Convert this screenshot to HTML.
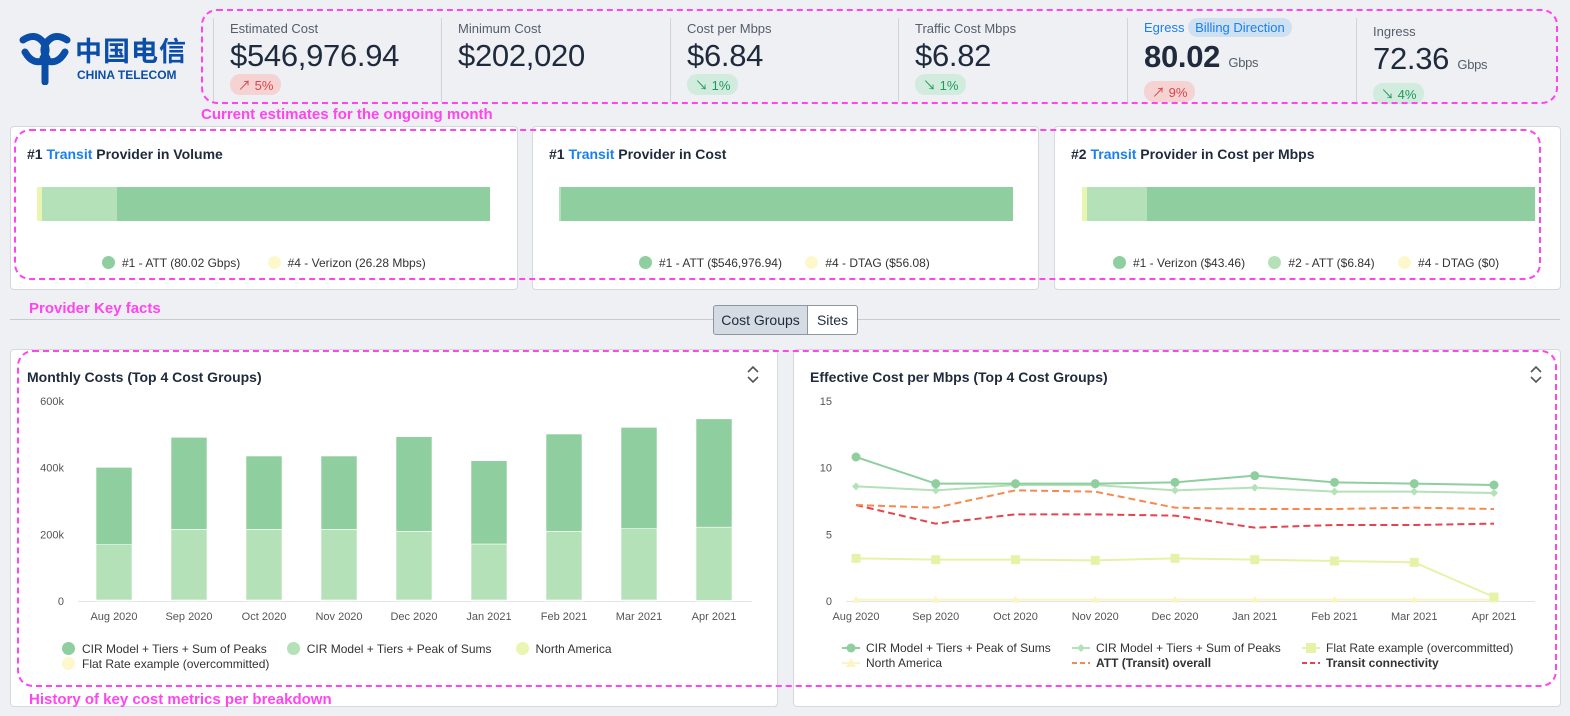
<!DOCTYPE html>
<html><head><meta charset="utf-8">
<style>
*{box-sizing:border-box;margin:0;padding:0}
body{width:1570px;height:716px;background:#eef0f4;font-family:"Liberation Sans","Noto Sans CJK SC",sans-serif;color:#1f2a3c;position:relative;overflow:hidden}
.abs{position:absolute}
.kpi{position:absolute;top:18px;height:84px;border-left:1px solid #cfd3da;padding-left:16px}
.kl{font-size:13px;color:#555d6b;margin-top:3px}
.kv{font-size:31px;color:#1f2a3c;margin-top:2px;line-height:36px;letter-spacing:-0.3px}
.badge{display:inline-block;font-size:13px;border-radius:10px;padding:1px 8px;margin-top:0}
.up{background:#f5d3d3;color:#e0414a}.dn{background:#d2ebdf;color:#1f9a5a}
.card{position:absolute;background:#fff;border:1px solid #d5d8de;border-radius:4px}
.ct{position:absolute;font-size:14px;font-weight:bold;color:#1f2a3c}
.blue{color:#1a7ff0}
.dash{position:absolute;border:2px dashed #ff44f0;border-radius:16px}
.note{position:absolute;color:#ff44f0;font-weight:bold;font-size:15px}
.leg{position:absolute;font-size:12px;color:#333;white-space:nowrap}
.dot{display:inline-block;width:13px;height:13px;border-radius:50%;vertical-align:-2px;margin-right:7px}
</style></head><body>

<div class="abs" style="left:15px;top:30px;width:175px;height:55px">
 <svg width="60" height="55" class="abs" style="left:0;top:0"><path d="M8 10 Q20 2 28 12 Q34 20 28 28 M52 10 Q40 2 32 12 Q26 20 32 28 M10 22 Q18 36 30 30 Q42 36 50 22 M30 12 L30 52" stroke="#0a4ea8" stroke-width="7" fill="none" stroke-linecap="round"/></svg>
 <div class="abs" style="left:60px;top:0;font-size:27px;font-weight:bold;color:#0a4ea8;font-family:'Noto Sans CJK SC',sans-serif;letter-spacing:1px">中国电信</div>
 <div class="abs" style="left:62px;top:38px;font-size:12px;font-weight:bold;color:#0a4ea8">CHINA TELECOM</div>
</div>

<div class="kpi" style="left:213px"><div class="kl">Estimated Cost</div><div class="kv">$546,976.94</div><span class="badge up">↗ 5%</span></div>
<div class="kpi" style="left:441px"><div class="kl">Minimum Cost</div><div class="kv">$202,020</div></div>
<div class="kpi" style="left:670px"><div class="kl">Cost per Mbps</div><div class="kv">$6.84</div><span class="badge dn">↘ 1%</span></div>
<div class="kpi" style="left:898px"><div class="kl">Traffic Cost Mbps</div><div class="kv">$6.82</div><span class="badge dn">↘ 1%</span></div>
<div class="kpi" style="left:1127px"><div class="kl" style="margin-top:2px"><span class="blue">Egress</span> <span style="background:#cfe0f0;color:#1a7ff0;border-radius:10px;padding:2px 7px">Billing Direction</span></div><div class="kv" style="font-weight:bold;margin-top:4px">80.02 <span style="font-size:13px;font-weight:normal;color:#555d6b">Gbps</span></div><span class="badge up">↗ 9%</span></div>
<div class="kpi" style="left:1356px"><div class="kl" style="margin-top:6px">Ingress</div><div class="kv" style="margin-top:2px">72.36 <span style="font-size:13px;color:#555d6b">Gbps</span></div><span class="badge dn">↘ 4%</span></div>

<div class="dash" style="left:201px;top:9px;width:1357px;height:95px"></div>
<div class="note" style="left:201px;top:106px">Current estimates for the ongoing month</div>

<div class="card" style="left:10px;top:126px;width:508px;height:164px">
 <div class="ct" style="left:16px;top:19px">#1 <span class="blue">Transit</span> Provider in Volume</div>
 <div class="abs" style="left:26px;top:60px;width:5px;height:34px;background:#e9f5b0"></div>
 <div class="abs" style="left:31px;top:60px;width:75px;height:34px;background:#b5e1b9"></div>
 <div class="abs" style="left:106px;top:60px;width:373px;height:34px;background:#8fce9f"></div>
 <div class="leg" style="left:91px;top:129px"><span class="dot" style="background:#8fce9f"></span>#1 - ATT (80.02 Gbps) <span class="dot" style="background:#fdf8cc;margin-left:24px"></span>#4 - Verizon (26.28 Mbps)</div>
</div>
<div class="card" style="left:532px;top:126px;width:507px;height:164px">
 <div class="ct" style="left:16px;top:19px">#1 <span class="blue">Transit</span> Provider in Cost</div>
 <div class="abs" style="left:26px;top:60px;width:2px;height:34px;background:#b5e1b9"></div>
 <div class="abs" style="left:28px;top:60px;width:452px;height:34px;background:#8fce9f"></div>
 <div class="leg" style="left:106px;top:129px"><span class="dot" style="background:#8fce9f"></span>#1 - ATT ($546,976.94) <span class="dot" style="background:#fdf8cc;margin-left:20px"></span>#4 - DTAG ($56.08)</div>
</div>
<div class="card" style="left:1054px;top:126px;width:507px;height:164px">
 <div class="ct" style="left:16px;top:19px">#2 <span class="blue">Transit</span> Provider in Cost per Mbps</div>
 <div class="abs" style="left:27px;top:60px;width:5px;height:34px;background:#e9f5b0"></div>
 <div class="abs" style="left:32px;top:60px;width:60px;height:34px;background:#b5e1b9"></div>
 <div class="abs" style="left:92px;top:60px;width:388px;height:34px;background:#8fce9f"></div>
 <div class="leg" style="left:58px;top:129px"><span class="dot" style="background:#8fce9f"></span>#1 - Verizon ($43.46) <span class="dot" style="background:#b5e1b9;margin-left:20px"></span>#2 - ATT ($6.84) <span class="dot" style="background:#fdf8cc;margin-left:20px"></span>#4 - DTAG ($0)</div>
</div>
<div class="dash" style="left:14px;top:129px;width:1527px;height:151px"></div>
<div class="note" style="left:29px;top:300px">Provider Key facts</div>

<div class="abs" style="left:10px;top:319px;width:1550px;height:1px;background:#c8cbd1"></div>
<div class="abs" style="left:713px;top:305px;width:95px;height:30px;background:#d5dbe3;border:1px solid #8d96a3;border-radius:3px 0 0 3px;font-size:14px;text-align:center;line-height:28px">Cost Groups</div>
<div class="abs" style="left:807px;top:305px;width:51px;height:30px;background:#fff;border:1px solid #8d96a3;border-radius:0 3px 3px 0;font-size:14px;text-align:center;line-height:28px">Sites</div>

<div class="card" style="left:10px;top:349px;width:768px;height:358px">
 <div class="ct" style="left:16px;top:19px">Monthly Costs (Top 4 Cost Groups)</div>
</div>
<div class="card" style="left:793px;top:349px;width:768px;height:358px">
 <div class="ct" style="left:16px;top:19px">Effective Cost per Mbps (Top 4 Cost Groups)</div>
</div>

<svg class="abs" style="left:0;top:0" width="1570" height="716" font-family="Liberation Sans, sans-serif">
 <g id="left"></g>
 <g id="right"></g>
 <g stroke="#555" stroke-width="1.6" fill="none">
  <path d="M748 372 l5 -5 l5 5 M748 377 l5 5 l5 -5"/><path d="M1531 372 l5 -5 l5 5 M1531 377 l5 5 l5 -5"/>
 </g>
</svg>

<div class="leg" style="left:62px;top:642px"><span class="dot" style="background:#8fce9f"></span>CIR Model + Tiers + Sum of Peaks<span class="dot" style="background:#b5e1b9;margin-left:20px"></span>CIR Model + Tiers + Peak of Sums<span class="dot" style="background:#e9f5b0;margin-left:24px"></span>North America</div>
<div class="leg" style="left:62px;top:657px"><span class="dot" style="background:#fdf8cc"></span>Flat Rate example (overcommitted)</div>

<div class="dash" style="left:17px;top:350px;width:1540px;height:337px"></div>
<div class="note" style="left:29px;top:691px">History of key cost metrics per breakdown</div>

<script>
const months=["Aug 2020","Sep 2020","Oct 2020","Nov 2020","Dec 2020","Jan 2021","Feb 2021","Mar 2021","Apr 2021"];
const sumPeaks=[232000,276000,220000,220000,284000,250000,292000,304000,325000];
const peakSums=[166000,212000,212000,212000,206000,168000,206000,214000,220000];
const northAmerica=[2000,2000,2000,2000,2000,2000,2000,2000,1000];
const flatRate=[1000,1000,1000,1000,1000,1000,1000,1000,500];
const leftTicks=[0,200000,400000,600000];
const leftTickLabels=["0","200k","400k","600k"];
const rightTicks=[0,5,10,15];
const cirPeakSums=[10.8,8.8,8.8,8.8,8.9,9.4,8.9,8.8,8.7];
const cirSumPeaks=[8.6,8.3,8.7,8.7,8.3,8.5,8.2,8.2,8.1];
const flatRateCpm=[3.2,3.1,3.1,3.05,3.2,3.1,3.0,2.9,0.3];
const northAmericaCpm=[0.1,0.1,0.1,0.1,0.1,0.1,0.1,0.1,0.1];
const attOverall=[7.2,7.0,8.3,8.2,7.0,6.9,6.9,7.0,6.9];
const transitConn=[7.2,5.8,6.5,6.5,6.4,5.5,5.7,5.7,5.8];

const NS="http://www.w3.org/2000/svg";
function mk(p,t,a){const e=document.createElementNS(NS,t);for(const k in a)e.setAttribute(k,a[k]);p.appendChild(e);return e;}

const L=document.getElementById('left');
const ly=v=>601-v/600000*200;
const lx=i=>114+i*75;
leftTicks.forEach((t,i)=>{const e=mk(L,'text',{x:64,y:ly(t)+4,'text-anchor':'end','font-size':11,fill:'#555'});e.textContent=leftTickLabels[i];

});
mk(L,'line',{x1:78,x2:752,y1:601.5,y2:601.5,stroke:'#e2e4e8'});
months.forEach((m,i)=>{
 const series=[[flatRate[i],'#fdf8cc'],[northAmerica[i],'#e9f5b0'],[peakSums[i],'#b5e1b9'],[sumPeaks[i],'#8fce9f']];
 let base=0;
 series.forEach(([v,c])=>{const r=mk(L,'rect',{x:lx(i)-18,y:ly(base+v),width:36,height:Math.max(0,ly(base)-ly(base+v)),fill:c,stroke:'#fff','stroke-width':0.6});
 
 
 base+=v;});
 const t=mk(L,'text',{x:lx(i),y:620,'text-anchor':'middle','font-size':11,fill:'#555'});t.textContent=m;
 
 
});

const R=document.getElementById('right');
const ry=v=>601-v/15*200;
const rx=i=>856+i*79.75;
rightTicks.forEach(t=>{const e=mk(R,'text',{x:832,y:ry(t)+4,'text-anchor':'end','font-size':11,fill:'#555'});e.textContent=t;

});
mk(R,'line',{x1:846,x2:1535,y1:601.5,y2:601.5,stroke:'#e2e4e8'});
months.forEach((m,i)=>{const t=mk(R,'text',{x:rx(i),y:620,'text-anchor':'middle','font-size':11,fill:'#555'});t.textContent=m;
 
 });
function line(data,color,dash,marker,name){
 const pts=data.map((v,i)=>rx(i)+','+ry(v)).join(' ');
 const p=mk(R,'polyline',{points:pts,fill:'none',stroke:color,'stroke-width':2,'stroke-dasharray':dash||'none'});
 
 
 data.forEach((v,i)=>{const x=rx(i),y=ry(v);let e;
  if(marker==='c')e=mk(R,'circle',{cx:x,cy:y,r:4.5,fill:color});
  else if(marker==='d')e=mk(R,'path',{d:`M${x} ${y-4}L${x+4} ${y}L${x} ${y+4}L${x-4} ${y}Z`,fill:color});
  else if(marker==='s')e=mk(R,'rect',{x:x-4.5,y:y-4.5,width:9,height:9,fill:color});
  else if(marker==='t')e=mk(R,'path',{d:`M${x} ${y-4}L${x+4} ${y+3}L${x-4} ${y+3}Z`,fill:color});
  else return;
  
  });
}
line(northAmericaCpm,'#fbf5c4',null,'t','north-america-line');
line(flatRateCpm,'#e6f2a8',null,'s','flat-rate-line');
line(transitConn,'#e5434f','7,4',null,'transit-connectivity-line');
line(attOverall,'#f7894e','7,4',null,'att-overall-line');
line(cirSumPeaks,'#b5e1b9',null,'d','cir-sum-peaks-line');
line(cirPeakSums,'#8fce9f',null,'c','cir-peak-sums-line');

const legs=[[844,648,'#8fce9f','c','CIR Model + Tiers + Peak of Sums',false],[1074,648,'#b5e1b9','d','CIR Model + Tiers + Sum of Peaks',false],[1304,648,'#e6f2a8','s','Flat Rate example (overcommitted)',false],
[844,663,'#fbf5c4','t','North America',false],[1074,663,'#f7894e','dash','ATT (Transit) overall',true],[1304,663,'#e5434f','dash','Transit connectivity',true]];
legs.forEach(([x,y,c,m,txt,b])=>{
 const g=mk(R,'g',{});
 
 
 if(m==='dash')mk(g,'line',{x1:x-2,x2:x+16,y1:y,y2:y,stroke:c,'stroke-width':2,'stroke-dasharray':'5,3'});
 else{mk(g,'line',{x1:x-2,x2:x+16,y1:y,y2:y,stroke:c,'stroke-width':2});
  if(m==='c')mk(g,'circle',{cx:x+7,cy:y,r:4.5,fill:c});
  if(m==='d')mk(g,'path',{d:`M${x+7} ${y-4}L${x+11} ${y}L${x+7} ${y+4}L${x+3} ${y}Z`,fill:c});
  if(m==='s')mk(g,'rect',{x:x+2,y:y-5,width:10,height:10,fill:c});
  if(m==='t')mk(g,'path',{d:`M${x+7} ${y-5}L${x+12} ${y+4}L${x+2} ${y+4}Z`,fill:c});}
 const t=mk(g,'text',{x:x+22,y:y+4,'font-size':12,fill:'#333','font-weight':b?'bold':'normal'});t.textContent=txt;
});
</script>
</body></html>
